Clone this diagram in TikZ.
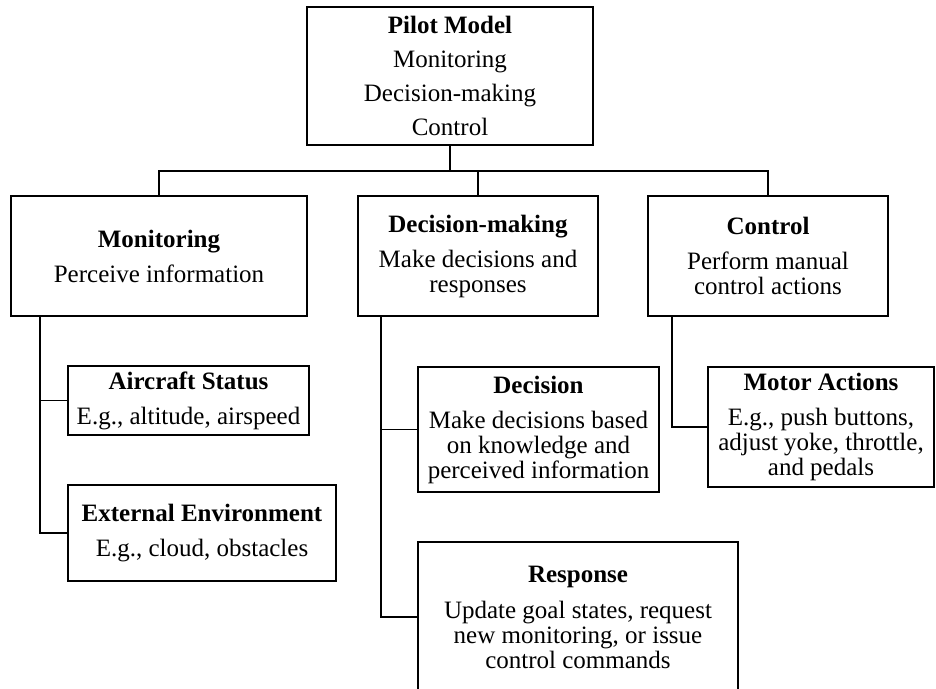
\documentclass[tikz,border=0pt]{standalone}
\usepackage{fontspec}
\setmainfont{Liberation Serif}

\tikzset{
    block/.style={draw, line width=1.6pt, align=center, inner sep=0pt,
        font=\fontsize{25}{25}\selectfont},
    link/.style={line width=1.6pt},
}

\begin{document}
\begin{tikzpicture}[x=1pt,y=-1pt]
    \clip (0,0) rectangle (936,688);
    % Top level
    \node[block, minimum width=286pt, minimum height=138pt] (Pilot) at (450,76)
        {\textbf{Pilot Model}\\[9pt]Monitoring\\[9pt]Decision-making\\[9pt]Control};
    % Second level
    \node[block, minimum width=296pt, minimum height=120pt] (Monitor) at (159,256)
        {\textbf{Monitoring}\\[10pt]Perceive information};
    \node[block, minimum width=240pt, minimum height=120pt] (Decide) at (478,256)
        {\textbf{Decision-making}\\[10pt]Make decisions and\\responses};
    \node[block, minimum width=240pt, minimum height=120pt] (Control) at (768,256)
        {\textbf{Control}\\[10pt]Perform manual\\control actions};
    % Third level
    \node[block, minimum width=241pt, minimum height=69pt] (Aircraft) at (188.5,400.5)
        {\textbf{Aircraft Status}\\[10pt]E.g., altitude, airspeed};
    \node[block, minimum width=268pt, minimum height=96pt] (Extenv) at (202,533)
        {\textbf{External Environment}\\[10pt]E.g., cloud, obstacles};
    \node[block, minimum width=241pt, minimum height=125pt] (Decision) at (538.5,429.5)
        {\textbf{Decision}\\[10pt]Make decisions based\\on knowledge and\\perceived information};
    \node[block, minimum width=320pt, minimum height=150pt] (Response) at (578,617)
        {\textbf{Response}\\[11pt]Update goal states, request\\new monitoring, or issue\\control commands};
    \node[block, minimum width=226pt, minimum height=120pt] (Motor) at (821,427)
        {\textbf{Motor Actions}\\[10pt]E.g., push buttons,\\adjust yoke, throttle,\\and pedals};
    % Links
    \foreach \n in {Monitor,Decide,Control} {
        \draw[link] (Pilot.south) -- ++(0,25) -| (\n.north);
    }
    \foreach \n in {Aircraft,Extenv} {
        \draw[link] ([xshift=30pt]Monitor.south west) |- (\n.west);
    }
    \foreach \n in {Decision,Response} {
        \draw[link] ([xshift=24pt]Decide.south west) |- (\n.west);
    }
    \draw[link] ([xshift=25pt]Control.south west) |- (Motor.west);
\end{tikzpicture}
\end{document}
